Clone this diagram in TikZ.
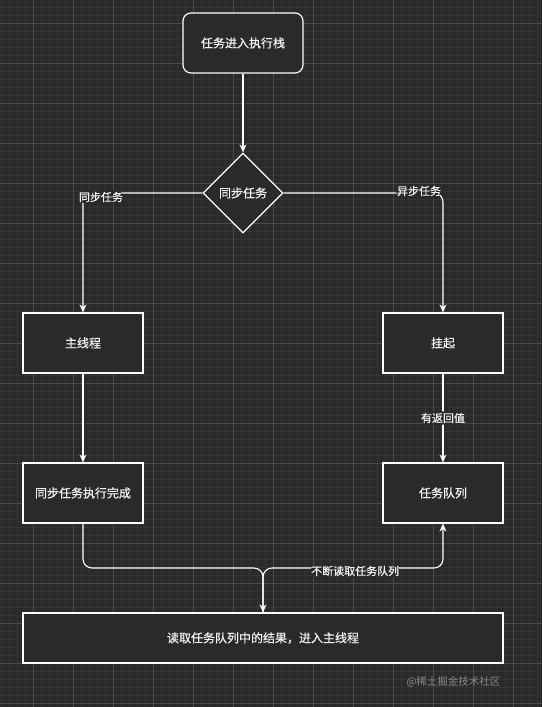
\documentclass[tikz,border=0pt]{standalone}
\usepackage{fontspec}
\setmainfont{Noto Sans CJK SC}
\newfontfamily\boldish[FakeBold=0.6]{Noto Sans CJK SC}
\usetikzlibrary{arrows.meta,shapes.geometric}
\definecolor{bgc}{HTML}{2A2A2A}
\definecolor{boxc}{HTML}{2A2A2A}
\definecolor{majorc}{HTML}{4A4A4A}
\definecolor{minorc}{HTML}{343434}
\definecolor{txtc}{HTML}{F2F2F2}
\definecolor{wmc}{HTML}{8A8A8A}
\tikzset{
  box/.style={draw=white, line width=1.2pt, fill=boxc, text=txtc, minimum width=120pt, minimum height=60pt, inner sep=0pt, font=\boldish\fontsize{12}{14}\selectfont},
  rbox/.style={box, rounded corners=8pt},
  dia/.style={draw=white, line width=1.2pt, fill=boxc, text=txtc, diamond, minimum width=80pt, minimum height=80pt, inner sep=0pt, font=\boldish\fontsize{12}{14}\selectfont},
  conn/.style={draw=white, line width=1.1pt, -{Stealth[length=8pt,width=7pt]}, rounded corners=9pt},
  lbl/.style={fill=bgc, text=txtc, inner sep=1.5pt, font=\boldish\fontsize{11}{13}\selectfont},
  minorl/.style={draw=minorc, line width=0.6pt},
  majorl/.style={draw=majorc, line width=0.9pt}
}
\begin{document}
\begin{tikzpicture}[x=1pt,y=-1pt]
\useasboundingbox (0,0) rectangle (542,707);
\fill[bgc] (0,0) rectangle (542,707);
% grid
\foreach \i in {0,...,67} \draw[minorl] ({1+8*\i},0) -- ({1+8*\i},707);
\foreach \j in {0,...,88} \draw[minorl] (0,{7+8*\j}) -- (542,{7+8*\j});
\foreach \i in {0,...,13} \draw[majorl] ({33+40*\i},0) -- ({33+40*\i},707);
\foreach \j in {0,...,17} \draw[majorl] (0,{23+40*\j}) -- (542,{23+40*\j});
% nodes
\node[rbox] (start) at (243,43) {任务进入执行栈};
\node[dia] (d) at (243,193) {同步任务};
\node[box] (main) at (83,343) {主线程};
\node[box] (hang) at (443,343) {挂起};
\node[box] (done) at (83,493) {同步任务执行完成};
\node[box] (queue) at (443,493) {任务队列};
\node[box, minimum width=480pt, minimum height=50pt] (read) at (263,638) {读取任务队列中的结果，进入主线程};
\coordinate (jn) at (263,568);
% connectors
\draw[conn] (start.south) -- (d.north);
\draw[conn] (d.west) -| (main.north) node[lbl, pos=0.5, xshift=18pt, yshift=-4pt] {同步任务};
\draw[conn] (d.east) -| (hang.north) node[lbl, pos=0.5, xshift=-24pt, yshift=2pt] {异步任务};
\draw[conn] (main.south) -- (done.north);
\draw[conn] (hang.south) -- (queue.north) node[lbl, midway] {有返回值};
\draw[conn] (done.south) |- (jn) -- (read.north);
\draw[conn] (read.north) -- (jn) -| (queue.south) node[lbl, pos=0.256, yshift=-3pt] {不断读取任务队列};
% watermark
\node[text=wmc, font=\fontsize{10.5}{13}\selectfont, anchor=east] (wm) at (504,682) {@稀土掘金技术社区};
\end{tikzpicture}
\end{document}
